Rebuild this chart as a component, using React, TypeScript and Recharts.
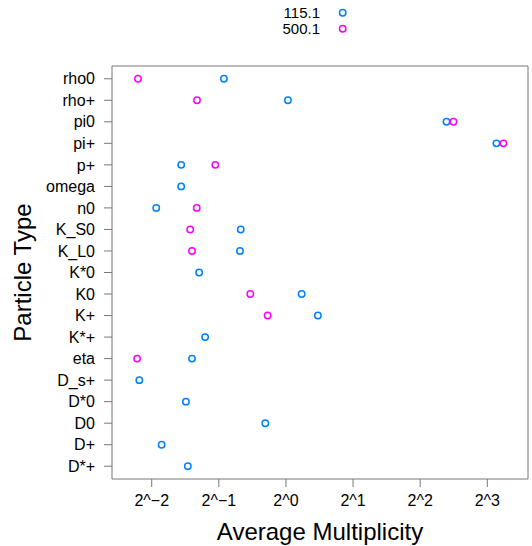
import React from 'react';
import { ScatterChart, Scatter, XAxis, YAxis, Legend } from 'recharts';

// particle types, top to bottom
const particles = [
  'rho0', 'rho+', 'pi0', 'pi+', 'p+', 'omega', 'n0', 'K_S0', 'K_L0', 'K*0',
  'K0', 'K+', 'K*+', 'eta', 'D_s+', 'D*0', 'D0', 'D+', 'D*+',
];
const mult115 = [
  0.527, 1.021, 5.25, 8.79, 0.339, 0.339, 0.262, 0.627, 0.622, 0.408,
  1.176, 1.391, 0.434, 0.379, 0.22, 0.356, 0.808, 0.277, 0.363,
];
const particles500 = ['rho0', 'rho+', 'pi0', 'pi+', 'p+', 'n0', 'K_S0', 'K_L0', 'K0', 'K+', 'eta'];
const mult500 = [0.217, 0.399, 5.64, 9.45, 0.482, 0.398, 0.372, 0.379, 0.692, 0.828, 0.215];

const xTicks = [0.25, 0.5, 1, 2, 4, 8];
const xTickLabels = ['2^\u22122', '2^\u22121', '2^0', '2^1', '2^2', '2^3'];

const BLUE = '#0080ff';
const PINK = '#ff00ff';
const LINE = '#777';

const data115 = particles.map((name, i) => ({ name, value: mult115[i] }));
const data500 = particles500.map((name, i) => ({ name, value: mult500[i] }));

const ring = (color: string) => (p: any) => (
  <circle cx={p.cx} cy={p.cy} r={3.2} fill="none" stroke={color} strokeWidth={1.5} />
);

const LegendBox = ({ payload }: any) => {
  const items = (payload || []).filter((e: any) => e.type !== 'none' && e.value !== 'hidden');
  return (
    <svg width={532} height={40} style={{ display: 'block' }}>
      {items.map((entry: any, i: number) => (
        <g key={entry.value}>
          <text x={320} y={18 + i * 16} textAnchor="end" fontSize={15} fill="#000">
            {entry.value}
          </text>
          <circle cx={342.7} cy={12.7 + i * 16} r={3.2} fill="none" stroke={entry.color} strokeWidth={1.5} />
        </g>
      ))}
    </svg>
  );
};

export default function App() {
  return (
    <div style={{ position: 'absolute', left: 0, top: 0, fontFamily: '"Liberation Sans", Arial, sans-serif' }}>
      <ScatterChart width={532} height={546} margin={{ top: 0, right: 0, bottom: 0, left: 0 }}>
        <XAxis
          xAxisId="b"
          type="number"
          dataKey="value"
          scale="log"
          domain={[0.1659, 12.18]}
          allowDataOverflow
          ticks={xTicks}
          tickFormatter={(v: number, i: number) => xTickLabels[i]}
          orientation="bottom"
          height={67}
          tickSize={8}
          tickMargin={8}
          stroke={LINE}
          tick={{ fill: '#000', fontSize: 16 }}
          label={{ value: 'Average Multiplicity', position: 'insideBottom', offset: 6, fontSize: 24, fill: '#000' }}
        />
        <XAxis
          xAxisId="t"
          type="number"
          dataKey="value"
          scale="log"
          domain={[0.1659, 12.18]}
          allowDataOverflow
          ticks={xTicks}
          orientation="top"
          height={66}
          tickSize={8}
          tick={false}
          stroke={LINE}
        />
        <YAxis
          yAxisId="l"
          type="category"
          dataKey="name"
          allowDuplicatedCategory={false}
          reversed
          width={112}
          padding={{ top: 2, bottom: 2 }}
          tickSize={8}
          tickMargin={9}
          interval={0}
          stroke={LINE}
          tick={{ fill: '#000', fontSize: 16 }}
          label={{ value: 'Particle Type', angle: -90, position: 'insideLeft', offset: 22, fontSize: 24, fill: '#000', style: { textAnchor: 'middle' } }}
        />
        <YAxis
          yAxisId="r"
          type="category"
          dataKey="name"
          orientation="right"
          allowDuplicatedCategory={false}
          reversed
          width={4}
          padding={{ top: 2, bottom: 2 }}
          tickSize={8}
          interval={0}
          tick={false}
          stroke={LINE}
        />
        <Legend
          verticalAlign="middle"
          align="center"
          wrapperStyle={{ top: 0, left: 0, width: 532 }}
          content={<LegendBox />}
        />
        <Scatter
          name="hidden"
          data={data115}
          xAxisId="t"
          yAxisId="r"
          legendType="none"
          shape={() => <g />}
          isAnimationActive={false}
        />
        <Scatter
          name="115.1"
          data={data115}
          xAxisId="b"
          yAxisId="l"
          fill={BLUE}
          shape={ring(BLUE)}
          isAnimationActive={false}
        />
        <Scatter
          name="500.1"
          data={data500}
          xAxisId="b"
          yAxisId="l"
          fill={PINK}
          shape={ring(PINK)}
          isAnimationActive={false}
        />
      </ScatterChart>
    </div>
  );
}
